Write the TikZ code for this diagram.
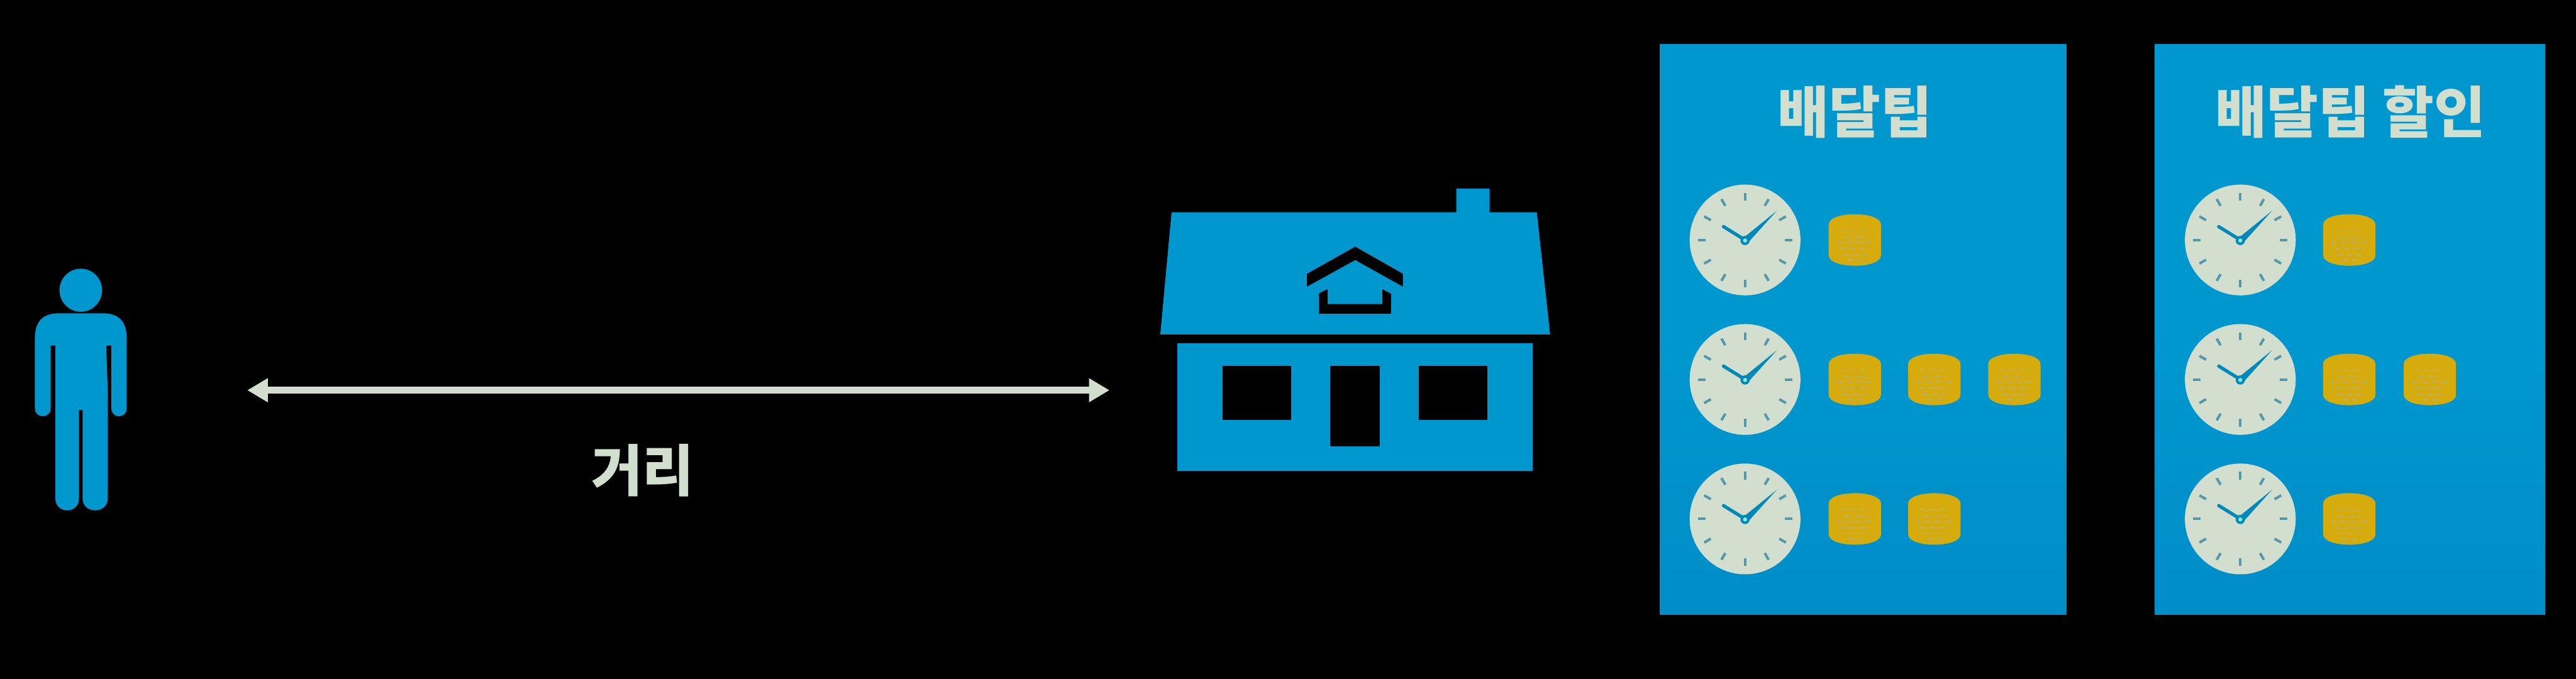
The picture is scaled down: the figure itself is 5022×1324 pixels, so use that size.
\documentclass[tikz,border=0pt]{standalone}
\usepackage{fontspec}
\newfontfamily\krfont{Noto Sans CJK KR}
\usetikzlibrary{arrows.meta}
\definecolor{iconblue}{HTML}{0097CF}
\definecolor{lowblue}{HTML}{008DC8}
\definecolor{cream}{HTML}{D2DFCE}
\definecolor{coingold}{HTML}{D6AC0C}
\definecolor{coinspeck}{HTML}{C4AE45}
\tikzset{
    label text/.style={text=cream, font=\krfont\bfseries\fontsize{31}{31}\selectfont, inner sep=0pt},
    panel/.style={top color=iconblue, bottom color=lowblue, middle color=iconblue},
    tick mark/.style={draw=iconblue!70!black, line width=0.05cm, opacity=0.6},
    clock hand/.style={draw=iconblue!90!black, line cap=round},
    coin speck/.style={draw=coinspeck, line width=0.035cm, dash pattern=on 0.12cm off 0.07cm}
}
\begin{document}
\begin{tikzpicture}[x=0.01cm, y=-0.01cm]
    \fill[black] (0,0) rectangle (5022,1324);
    \useasboundingbox (0,0) rectangle (5022,1324);

    % Draw the person
    \fill[iconblue] (157.5,566) ellipse (41.5 and 42);
    \fill[iconblue] (68,660) .. controls (68,625) and (85,611) .. (115,611) -- (200,611)
        .. controls (230,611) and (247,625) .. (247,660) -- (247,796)
        .. controls (247,817) and (217,817) .. (217,796) -- (217,674) -- (207,674) -- (210,760) -- (210,972)
        .. controls (210,1003) and (161,1003) .. (161,972) -- (161,800) -- (154,800) -- (154,972)
        .. controls (154,1003) and (108,1003) .. (108,972) -- (108,674) -- (99,674) -- (99,796)
        .. controls (99,817) and (68,817) .. (68,796) -- cycle;

    % Draw the distance arrow
    \coordinate (nearend) at (482,761);
    \coordinate (farend) at (2163,761);
    \draw[cream, line width=0.13cm, {Triangle[length=0.40cm, width=0.44cm]}-{Triangle[length=0.40cm, width=0.44cm]}] (nearend) -- (farend);
    \node[label text] (distlabel) at (1253,917) {거리};

    % Draw the house
    \fill[iconblue] (2262,652) -- (2284,414) -- (2839,414) -- (2839,368) -- (2904,368) -- (2904,414) -- (2996,414) -- (3022,652) -- cycle;
    \fill[iconblue] (2295,670) rectangle (2988,918);
    \fill[black] (2383.5,714) rectangle (2517,819.5);
    \fill[black] (2766,714) rectangle (2900,819.5);
    \fill[black] (2593,714) rectangle (2690,870.5);
    \fill[black] (2642,481) -- (2735,534) -- (2735,559) -- (2642,507) -- (2548,559) -- (2548,534) -- cycle;
    \fill[black] (2571.5,572) -- (2588,564) -- (2588,593) -- (2695,593) -- (2695,564) -- (2712,573) -- (2712,611.5) -- (2571.5,611.5) -- cycle;

    % Draw the two panels
    \fill[panel] (3236,87) rectangle (4028,1198);
    \fill[panel] (4201,87) rectangle (4962,1198);
    \node[label text] (tiptitle) at (3616,218) {배달팁};
    \node[label text] (discounttitle) at (4582,218) {배달팁 할인};

    % Draw the clocks
    \foreach \cx in {3402, 4367.5} {
        \foreach \cy in {468, 740, 1012} {
            \fill[cream] (\cx,\cy) circle (108);
            \foreach \a in {0, 30, ..., 330} {
                \draw[tick mark] ({\cx+77*cos(\a)},{\cy+77*sin(\a)}) -- ({\cx+92*cos(\a)},{\cy+92*sin(\a)});
            }
            \fill[iconblue!90!black] (\cx-2,\cy-5) -- (\cx+62,\cy-57) -- (\cx+7,\cy+4) -- cycle;
            \draw[clock hand, line width=0.065cm] (\cx,\cy) -- (\cx-42,\cy-26);
            \fill[iconblue!90!black] (\cx,\cy+1) circle (9);
            \fill[cream!60!cyan] (\cx,\cy+1) circle (4);
        }
    }

    % Draw the coins
    \foreach \cx/\cy in {3616/468, 3616/740, 3771/740, 3927/740, 3616/1012, 3771/1012,
                         4580/468, 4580/740, 4737/740, 4580/1012} {
        \fill[coingold] (\cx-51,\cy-30) .. controls (\cx-51,\cy-57) and (\cx+51,\cy-57) .. (\cx+51,\cy-30)
            -- (\cx+51,\cy+30) .. controls (\cx+51,\cy+57) and (\cx-51,\cy+57) .. (\cx-51,\cy+30) -- cycle;
        \foreach \dy/\w in {-18/30, -5/22, 5/36, 17/30, 29/24, 39/14} {
            \draw[coin speck] (\cx-\w,\cy+\dy) -- (\cx+\w,\cy+\dy);
        }
    }
\end{tikzpicture}
\end{document}
